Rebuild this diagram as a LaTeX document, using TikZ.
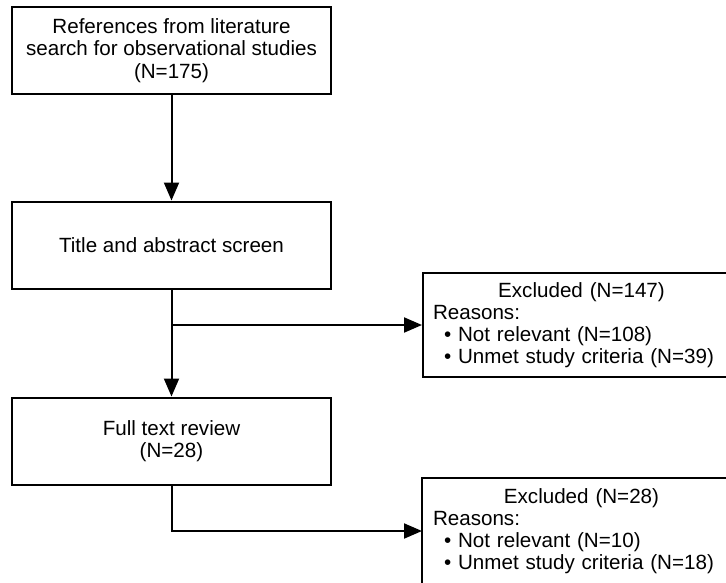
\documentclass[tikz,border=0pt]{standalone}
\usepackage{fontspec}
\setmainfont{Liberation Sans}
\usepackage{xcolor}
\usetikzlibrary{arrows.meta, positioning}
\definecolor{Ink}{HTML}{000000}
\tikzset{
  stage/.style={draw=Ink, line width=2pt, minimum width=319pt, minimum height=87pt,
    inner sep=0pt, align=center, font=\fontsize{20.6}{22.5}\selectfont},
  excl/.style={draw=Ink, line width=2pt, anchor=north west, text width=297pt,
    inner xsep=10pt, inner ysep=0pt, minimum height=104pt, align=left,
    font=\fontsize{20.6}{22}\selectfont},
  flow/.style={-{Triangle[length=18pt, width=15pt]}, line width=2pt, color=Ink},
}
\newcommand{\reason}[1]{\hspace*{11pt}\textbullet\ #1}

\begin{document}
\begin{tikzpicture}[x=1pt, y=-1pt]
  \useasboundingbox (0,0) rectangle (726,582);
  \node[stage] (refs) at (171.5,50.5) {References from literature\\search for observational studies\\(N=175)};
  \node[stage] (screen) at (171.5,245) {Title and abstract screen};
  \node[stage] (fulltext) at (171.5,441) {Full text review\\(N=28)};

  \node[excl] (exclA) at (422,272) {\makebox[\linewidth][c]{Excluded (N=147)}\\Reasons:\\
    \reason{Not relevant (N=108)}\\\reason{Unmet study criteria (N=39)}};
  % lower box runs off the page: only its top and left sides show
  \node[excl, draw=none] (exclB) at (422,478) {\makebox[\linewidth][c]{Excluded (N=28)}\\Reasons:\\
    \reason{Not relevant (N=10)}\\\reason{Unmet study criteria (N=18)}};
  \draw[line width=2pt, color=Ink] ([yshift=-10pt]exclB.south west) -- (exclB.north west) -- (exclB.north east);

  \draw[flow] (refs) -- (screen);
  \draw[flow] (screen) -- (fulltext);
  \draw[flow] (screen.south |- exclA.west) -- (exclA.west);
  \draw[flow] (fulltext.south) |- (exclB.west);
\end{tikzpicture}
\end{document}
